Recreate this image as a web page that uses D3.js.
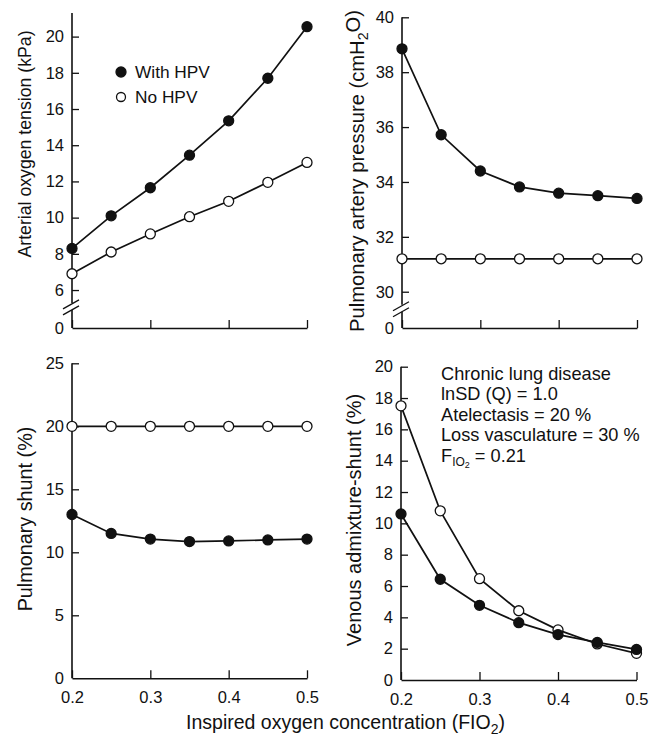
<!DOCTYPE html>
<html>
<head>
<meta charset="utf-8">
<script src="https://cdn.jsdelivr.net/npm/d3@7"></script>
<style>
  body { margin: 0; background: #fff; }
  svg text { font-family: "Liberation Sans", Arial, sans-serif; fill: #111; }
</style>
</head>
<body>
<div id="chart"></div>
<script>
// FIO2 values shared by all four panels
const fio2 = [0.2, 0.25, 0.3, 0.35, 0.4, 0.45, 0.5];

// Arterial oxygen tension (kPa)
const pao2WithHPV = [8.3, 10.1, 11.65, 13.45, 15.35, 17.7, 20.55];
const pao2NoHPV = [6.9, 8.1, 9.1, 10.05, 10.9, 11.95, 13.05];

// Pulmonary artery pressure (cmH2O)
const ppaWithHPV = [38.85, 35.72, 34.4, 33.82, 33.59, 33.5, 33.4];
const ppaNoHPV = [31.2, 31.2, 31.2, 31.2, 31.2, 31.2, 31.2];

// Pulmonary shunt (%)
const shuntWithHPV = [13.0, 11.5, 11.05, 10.85, 10.9, 10.98, 11.05];
const shuntNoHPV = [20, 20, 20, 20, 20, 20, 20];

// Venous admixture - shunt (%)
const admixWithHPV = [10.6, 6.43, 4.77, 3.66, 2.9, 2.4, 1.95];
const admixNoHPV = [17.5, 10.8, 6.47, 4.42, 3.2, 2.3, 1.7];

// tick labels
const xTicks = [0.2, 0.3, 0.4, 0.5];
const xTickLabels = ["0.2", "0.3", "0.4", "0.5"];
const pao2Ticks = [0, 6, 8, 10, 12, 14, 16, 18, 20];
const ppaTicks = [0, 30, 32, 34, 36, 38, 40];
const shuntTicks = [0, 5, 10, 15, 20, 25];
const admixTicks = [0, 2, 4, 6, 8, 10, 12, 14, 16, 18, 20];

const svg = d3.select("#chart").append("svg")
    .attr("width", 658)
    .attr("height", 747);

let panels = [
    { // top left
        x0: 72, x1: 307, yDom: [0, 5.4, 20], yRng: [328, 300.9, 36.6], axisTop: 13,
        brk: true, ticks: pao2Ticks, withHPV: pao2WithHPV, noHPV: pao2NoHPV,
        title: ["Arterial oxygen tension (kPa)"], titleX: 25, titleY: 144, titleSize: 17.7, xLabels: false
    },
    { // top right
        x0: 402, x1: 637, yDom: [0, 29.6, 40], yRng: [328, 302.7, 17.3], axisTop: 17.3,
        brk: true, ticks: ppaTicks, withHPV: ppaWithHPV, noHPV: ppaNoHPV,
        title: ["Pulmonary artery pressure (cmH", "2", "O)"], titleX: 357, titleY: 171, titleSize: 20.2, xLabels: false
    },
    { // bottom left
        x0: 72, x1: 307, yDom: [0, 25], yRng: [678.3, 363.3], axisTop: 363.3,
        brk: false, ticks: shuntTicks, withHPV: shuntWithHPV, noHPV: shuntNoHPV,
        title: ["Pulmonary shunt (%)"], titleX: 25, titleY: 519, titleSize: 19.8, xLabels: true
    },
    { // bottom right
        x0: 401, x1: 636.5, yDom: [0, 20], yRng: [680, 366.7], axisTop: 366.7,
        brk: false, ticks: admixTicks, withHPV: admixWithHPV, noHPV: admixNoHPV,
        title: ["Venous admixture-shunt (%)"], titleX: 354, titleY: 520, titleSize: 20, xLabels: true
    }
];

panels.forEach(function (p) {
    let x = d3.scaleLinear().domain([0.2, 0.5]).range([p.x0, p.x1]);
    let y = d3.scaleLinear().domain(p.yDom).range(p.yRng);
    let g = svg.append("g");
    let bottom = y(0);

    //y axis: ticks point inwards, domain drawn by hand because of the break
    let yAxis = d3.axisLeft(y)
        .tickValues(p.ticks)
        .tickFormat(d3.format("d"))
        .tickSizeInner(-7)
        .tickSizeOuter(0)
        .tickPadding(8);
    let ya = g.append("g")
        .attr("transform", "translate(" + p.x0 + ",0)")
        .call(yAxis);
    ya.select(".domain").remove();
    ya.selectAll("line").attr("stroke", "#111").attr("stroke-width", 1.3);
    ya.selectAll("text").style("font-size", "16.5px").attr("fill", "#111");
    ya.selectAll(".tick").filter(function (d) { return d === 0; }).select("line").remove();

    if (p.brk) {
        let bTop = y(p.yDom[1]);
        g.append("line").attr("x1", p.x0).attr("x2", p.x0)
            .attr("y1", p.axisTop).attr("y2", bTop + 2)
            .attr("stroke", "#111").attr("stroke-width", 1.6);
        g.append("line").attr("x1", p.x0).attr("x2", p.x0)
            .attr("y1", bTop + 9).attr("y2", bottom)
            .attr("stroke", "#111").attr("stroke-width", 1.6);
        [0, 6].forEach(function (o) {
            g.append("line")
                .attr("x1", p.x0 - 9).attr("y1", bTop + 8 + o)
                .attr("x2", p.x0 + 7).attr("y2", bTop - 1 + o)
                .attr("stroke", "#111").attr("stroke-width", 1.3);
        });
    } else {
        g.append("line").attr("x1", p.x0).attr("x2", p.x0)
            .attr("y1", p.axisTop).attr("y2", bottom)
            .attr("stroke", "#111").attr("stroke-width", 1.6);
    }

    //x axis with upward ticks
    let xAxis = d3.axisBottom(x)
        .tickValues(xTicks)
        .tickFormat(function (d, i) { return p.xLabels ? xTickLabels[i] : ""; })
        .tickSizeInner(-8)
        .tickSizeOuter(0)
        .tickPadding(13);
    let xa = g.append("g")
        .attr("transform", "translate(0," + bottom + ")")
        .call(xAxis);
    xa.select(".domain").attr("stroke", "#111").attr("stroke-width", 1.6);
    xa.selectAll("line").attr("stroke", "#111").attr("stroke-width", 1.3);
    xa.selectAll("text").style("font-size", "16.5px").attr("fill", "#111");

    //y title
    let t = g.append("text")
        .attr("transform", "translate(" + p.titleX + "," + p.titleY + ") rotate(-90)")
        .attr("text-anchor", "middle")
        .attr("dy", "0.35em")
        .style("font-size", p.titleSize + "px");
    t.append("tspan").text(p.title[0]);
    if (p.title.length > 1) {
        t.append("tspan").attr("dy", "0.3em").style("font-size", (p.titleSize * 0.7) + "px").text(p.title[1]);
        t.append("tspan").attr("dy", "-0.42em").text(p.title[2]);
    }

    //series lines and markers
    let line = d3.line()
        .x(function (d, i) { return x(fio2[i]); })
        .y(function (d) { return y(d); });

    [p.noHPV, p.withHPV].forEach(function (s) {
        g.append("path")
            .datum(s)
            .attr("d", line)
            .attr("fill", "none")
            .attr("stroke", "#111")
            .attr("stroke-width", 1.7);
    });
    [{ s: p.noHPV, fill: "#fff" }, { s: p.withHPV, fill: "#111" }].forEach(function (ser) {
        g.selectAll(null)
            .data(ser.s)
            .enter()
            .append("circle")
            .attr("cx", function (d, i) { return x(fio2[i]); })
            .attr("cy", function (d) { return y(d); })
            .attr("r", 5)
            .attr("fill", ser.fill)
            .attr("stroke", "#111")
            .attr("stroke-width", 1.3);
    });
});

//Legend in top left panel
let legendItems = [{ name: "With HPV", fill: "#111" }, { name: "No HPV", fill: "#fff" }];
let lg = svg.append("g");
legendItems.forEach(function (d, i) {
    lg.append("circle")
        .attr("cx", 121).attr("cy", 72 + i * 25).attr("r", i ? 4.5 : 5)
        .attr("fill", d.fill).attr("stroke", "#111").attr("stroke-width", 1.3);
    lg.append("text")
        .attr("x", 135).attr("y", 72 + i * 25).attr("dy", "0.36em")
        .style("font-size", "17.3px").text(d.name);
});

//Annotation in bottom right panel
let notes = ["Chronic lung disease", "lnSD (Q) = 1.0", "Atelectasis = 20 %", "Loss vasculature = 30 %"];
let ann = svg.append("g");
notes.forEach(function (n, i) {
    ann.append("text")
        .attr("x", 441).attr("y", 380 + i * 20.4)
        .style("font-size", "18.2px").text(n);
});
let fio = ann.append("text").attr("x", 441).attr("y", 380 + 4 * 20.4).style("font-size", "18.2px");
fio.append("tspan").text("F");
fio.append("tspan").attr("dy", "4").style("font-size", "12px").text("IO");
fio.append("tspan").attr("dy", "2").style("font-size", "9px").text("2");
fio.append("tspan").attr("dy", "-6").text(" = 0.21");

//x title
let xt = svg.append("text")
    .attr("x", 345.5).attr("y", 729)
    .attr("text-anchor", "middle")
    .style("font-size", "19.5px");
xt.append("tspan").text("Inspired oxygen concentration (FIO");
xt.append("tspan").attr("dy", "5").style("font-size", "14px").text("2");
xt.append("tspan").attr("dy", "-5").text(")");
</script>
</body>
</html>
